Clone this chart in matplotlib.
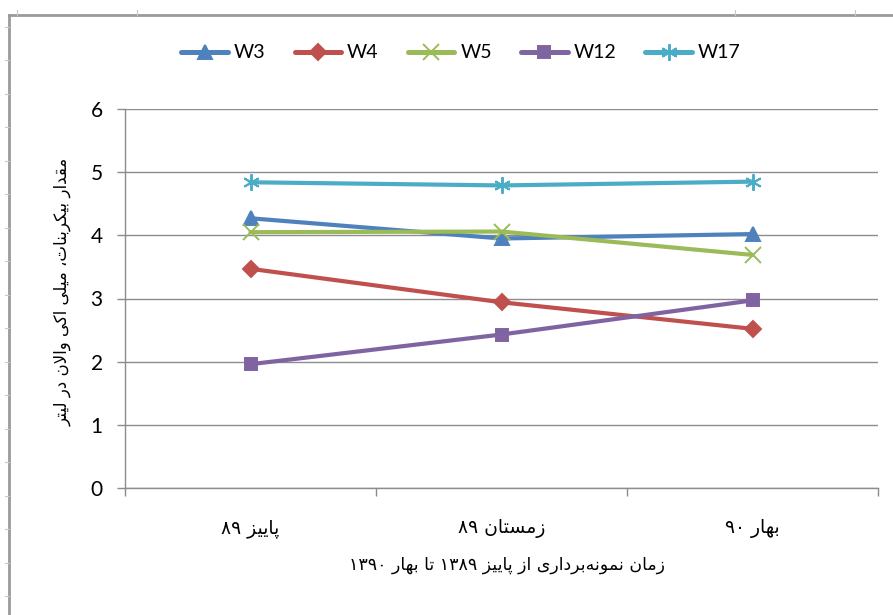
import re
import matplotlib
matplotlib.use("Agg")
import matplotlib.pyplot as plt
from matplotlib.lines import Line2D

# ---- data ----
seasons = ["پاییز ۸۹", "زمستان ۸۹", "بهار ۹۰"]
series_names = ["W3", "W4", "W5", "W12", "W17"]
w3 = [4.27, 3.95, 4.02]
w4 = [3.47, 2.94, 2.52]
w5 = [4.05, 4.06, 3.69]
w12 = [1.96, 2.43, 2.97]
w17 = [4.84, 4.79, 4.85]
y_ticks = [0, 1, 2, 3, 4, 5, 6]
y_title = "مقدار بیکربنات، میلی اکی والان در لیتر"
x_title = "زمان نمونه\u200cبرداری از پاییز ۱۳۸۹ تا بهار ۱۳۹۰"

# ---- minimal Persian shaping (isolated, final, initial, medial) ----
FORMS = {
    "ا": ("\uFE8D", "\uFE8E", None, None),
    "د": ("\uFEA9", "\uFEAA", None, None),
    "ر": ("\uFEAD", "\uFEAE", None, None),
    "ز": ("\uFEAF", "\uFEB0", None, None),
    "و": ("\uFEED", "\uFEEE", None, None),
    "ب": ("\uFE8F", "\uFE90", "\uFE91", "\uFE92"),
    "ت": ("\uFE95", "\uFE96", "\uFE97", "\uFE98"),
    "س": ("\uFEB1", "\uFEB2", "\uFEB3", "\uFEB4"),
    "ق": ("\uFED5", "\uFED6", "\uFED7", "\uFED8"),
    "ک": ("\uFB8E", "\uFB8F", "\uFB90", "\uFB91"),
    "ل": ("\uFEDD", "\uFEDE", "\uFEDF", "\uFEE0"),
    "م": ("\uFEE1", "\uFEE2", "\uFEE3", "\uFEE4"),
    "ن": ("\uFEE5", "\uFEE6", "\uFEE7", "\uFEE8"),
    "ه": ("\uFEE9", "\uFEEA", "\uFEEB", "\uFEEC"),
    "ی": ("\uFBFC", "\uFBFD", "\uFBFE", "\uFBFF"),
    "پ": ("\uFB56", "\uFB57", "\uFB58", "\uFB59"),
}
LAM_ALEF = ("\uFEFB", "\uFEFC")


def dual(c):
    return c in FORMS and FORMS[c][2] is not None


def joins(c):
    return c in FORMS


def shape(text):
    out = []
    i = 0
    n = len(text)
    while i < n:
        c = text[i]
        if c == "\u200c":
            i += 1
            continue
        if c not in FORMS:
            out.append(c)
            i += 1
            continue
        prev = text[i - 1] if i > 0 else ""
        link_prev = dual(prev)
        if c == "ل" and i + 1 < n and text[i + 1] == "ا":
            out.append(LAM_ALEF[1] if link_prev else LAM_ALEF[0])
            i += 2
            continue
        nxt = text[i + 1] if i + 1 < n else ""
        link_next = dual(c) and joins(nxt)
        iso, fin, ini, med = FORMS[c]
        if link_prev and link_next:
            out.append(med)
        elif link_prev:
            out.append(fin)
        elif link_next:
            out.append(ini)
        else:
            out.append(iso)
        i += 1
    return "".join(out)


def rtl(text):
    vis = shape(text)[::-1]
    return re.sub(r"[\u06F0-\u06F90-9]+", lambda m: m.group(0)[::-1], vis)


# ---- figure ----
fig = plt.figure(figsize=(8.93, 6.15), dpi=100)
W, H = 893, 615
ax = fig.add_axes([125 / W, 1 - 488 / H, (878 - 125) / W, (488 - 109) / H])

colors = ["#4F81BD", "#C0504D", "#9BBB59", "#8064A2", "#4BACC6"]
markers = ["^", "D", "x", "s", (6, 2, 0)]
msizes = [10, 8, 12, 9, 12]
values = [w3, w4, w5, w12, w17]
xs = list(range(len(seasons)))

for name, vals, col, mk, ms in zip(series_names, values, colors, markers, msizes):
    ax.plot(xs, vals, color=col, lw=3.0, marker=mk, ms=ms,
            mfc=col, mec=col, mew=1.4, label=name, solid_capstyle="round")

ax.set_xlim(-0.5, 2.5)
ax.set_ylim(0, 6)
ax.set_yticks(y_ticks)
ax.set_yticklabels([str(v) for v in y_ticks], fontfamily="Lato", fontsize=15)
ax.yaxis.grid(True, color="#8C8C8C", lw=1.0)
ax.set_axisbelow(True)

ax.set_xticks(xs)
ax.set_xticklabels([rtl(s) for s in seasons], fontfamily="DejaVu Sans", fontsize=13.5)
ax.set_xticks([-0.5, 0.5, 1.5, 2.5], minor=True)
ax.tick_params(axis="x", which="major", length=0, pad=22)
ax.tick_params(axis="x", which="minor", length=6, color="#8C8C8C", width=1)
ax.tick_params(axis="y", length=6, color="#8C8C8C", width=1, pad=10)

for side in ["top", "right"]:
    ax.spines[side].set_visible(False)
for side in ["left", "bottom"]:
    ax.spines[side].set_color("#8C8C8C")
    ax.spines[side].set_linewidth(1)

fig.text(63 / W, 1 - 292 / H, rtl(y_title), rotation=90, ha="center", va="center",
         fontsize=12, fontfamily="DejaVu Sans")
fig.text(507 / W, 1 - 565 / H, rtl(x_title), ha="center", va="center",
         fontsize=12.5, fontfamily="DejaVu Sans")

leg = fig.legend(loc="center", bbox_to_anchor=(461 / W, 1 - 53 / H), ncol=5,
                 frameon=False, prop={"family": "Lato", "size": 14},
                 handlelength=2.4, handletextpad=0.3, columnspacing=1.5)
for h in leg.legend_handles:
    h.set_linewidth(3.6)

# outer chart border
frame_col = "#9A9A9A"
fig.add_artist(Line2D([9 / W, 1.0], [1 - 15 / H, 1 - 15 / H], color=frame_col, lw=2))
fig.add_artist(Line2D([9 / W, 9 / W], [0, 1 - 15 / H], color=frame_col, lw=2))
for yy in [26.5 + 33.5 * k for k in range(18)]:
    fig.add_artist(Line2D([5 / W, 9 / W], [1 - yy / H] * 2, color="#C8C8C8", lw=0.8))
for xx in [17, 137, 735, 855]:
    fig.add_artist(Line2D([xx / W] * 2, [1 - 10 / H, 1 - 15 / H], color="#C8C8C8", lw=0.8))

fig.savefig("out.png", dpi=100, facecolor="white")
